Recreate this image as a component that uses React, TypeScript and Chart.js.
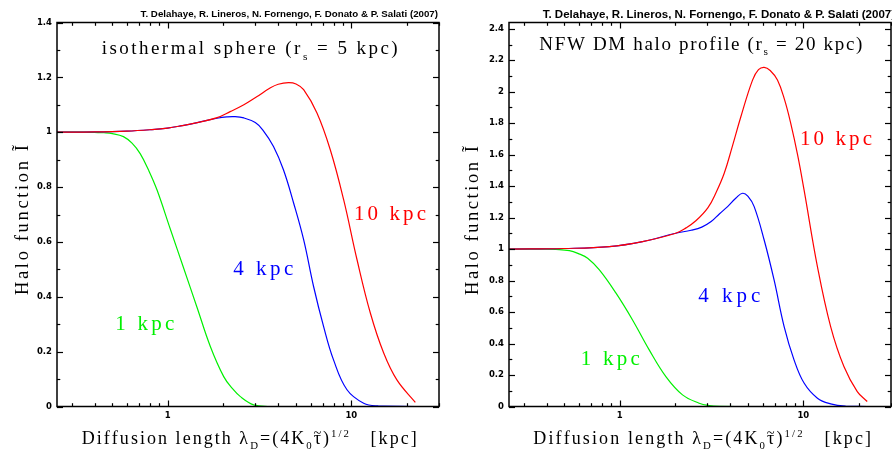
import React, { useEffect, useRef } from 'react';
import { Chart, registerables } from 'chart.js';

Chart.register(...registerables);

// ---------------- data ----------------
// Isothermal sphere (rs = 5 kpc)
const iso1X = [0.25, 0.3, 0.35, 0.4, 0.45, 0.5, 0.575, 0.64, 0.709, 0.79, 0.875, 1.033, 1.222, 1.445, 1.708, 2.02, 2.25, 2.49, 2.94, 3.5, 5, 10, 22.3];
const iso1Y = [1.0, 1.0, 1.0, 0.999, 0.998, 0.995, 0.984, 0.96, 0.922, 0.86, 0.79, 0.648, 0.505, 0.362, 0.219, 0.109, 0.066, 0.036, 0.006, 0.0, 0, 0, 0];
const iso4X = [0.25, 0.4, 0.6, 0.8, 1.0, 1.2, 1.45, 1.86, 2.1, 2.3, 2.6, 3.0, 3.3, 3.77, 4.27, 4.85, 5.5, 6.23, 7.06, 8.0, 9.47, 11.67, 14, 22.3];
const iso4Y = [1.0, 1.001, 1.004, 1.009, 1.015, 1.024, 1.035, 1.051, 1.056, 1.057, 1.052, 1.035, 1.008, 0.948, 0.863, 0.742, 0.608, 0.4375, 0.292, 0.17, 0.061, 0.012, 0.002, 0];
const iso10X = [0.25, 0.4, 0.6, 0.8, 1.0, 1.2, 1.45, 1.86, 2.19, 2.6, 3.07, 3.61, 4.0, 4.55, 5.0, 5.5, 6.5, 7.68, 9.08, 10.74, 12.7, 15.0, 17.7, 22.3];
const iso10Y = [1.0, 1.001, 1.004, 1.009, 1.015, 1.024, 1.035, 1.053, 1.075, 1.1, 1.13, 1.161, 1.175, 1.181, 1.176, 1.155, 1.07, 0.936, 0.754, 0.535, 0.34, 0.195, 0.097, 0.015];

// NFW DM halo profile (rs = 20 kpc)
const nfw1X = [0.25, 0.3, 0.384, 0.45, 0.533, 0.6, 0.67, 0.776, 0.956, 1.176, 1.449, 1.786, 2.2, 2.71, 3.07, 3.5, 5, 10, 22.3];
const nfw1Y = [1.0, 1.0, 1.0, 0.998, 0.99, 0.97, 0.942, 0.868, 0.72, 0.55, 0.36, 0.19, 0.074, 0.021, 0.006, 0.001, 0, 0, 0];
const nfw4X = [0.25, 0.5, 0.879, 1.333, 2.02, 2.45, 2.8, 3.15, 3.5, 3.87, 4.3, 4.67, 5.0, 5.4, 6.12, 6.93, 7.86, 8.9, 10.09, 11.93, 14.08, 17, 22.3];
const nfw4Y = [1.0, 1.004, 1.016, 1.048, 1.101, 1.12, 1.14, 1.175, 1.225, 1.27, 1.325, 1.355, 1.335, 1.27, 1.058, 0.804, 0.508, 0.2965, 0.149, 0.053, 0.017, 0.002, 0];
const nfw10X = [0.25, 0.5, 0.879, 1.333, 2.02, 2.3, 2.6, 3.02, 3.35, 3.71, 4.1, 4.57, 5.29, 5.7, 6.12, 6.6, 7.23, 7.9, 8.54, 9.3, 10.09, 11.93, 14.08, 16.63, 19.66, 22.27];
const nfw10Y = [1.0, 1.004, 1.016, 1.048, 1.101, 1.135, 1.18, 1.262, 1.36, 1.482, 1.65, 1.841, 2.074, 2.14, 2.155, 2.135, 2.074, 1.95, 1.799, 1.6, 1.376, 0.889, 0.508, 0.254, 0.095, 0.032];

// ticks
const xMajorTicks = [1, 10];
const xMinorTicks = [0.3, 0.4, 0.5, 0.6, 0.7, 0.8, 0.9, 2, 3, 4, 5, 6, 7, 8, 9, 20, 30];
const isoYMajor = [0, 0.2, 0.4, 0.6, 0.8, 1, 1.2, 1.4];
const isoYMinor = [0.1, 0.3, 0.5, 0.7, 0.9, 1.1, 1.3];
const nfwYMajor = [0, 0.2, 0.4, 0.6, 0.8, 1, 1.2, 1.4, 1.6, 1.8, 2, 2.2, 2.4];
const nfwYMinor = [0.1, 0.3, 0.5, 0.7, 0.9, 1.1, 1.3, 1.5, 1.7, 1.9, 2.1, 2.3];

const seriesLabels = ['10 kpc', '4 kpc', '1 kpc'];
const seriesColors = ['#ff0000', '#0000ff', '#00f000'];
const citation = 'T. Delahaye, R. Lineros, N. Fornengo, F. Donato & P. Salati (2007)';

// ---------------- text helpers ----------------
type Seg = { t: string; scale?: number; dy?: number; tilde?: boolean };

function drawRich(
  ctx: CanvasRenderingContext2D,
  segs: Seg[],
  x: number,
  y: number,
  o: { size: number; family: string; weight?: string; color: string; width?: number; align?: string }
) {
  const weight = o.weight || 'normal';
  const chars: { ch: string; sz: number; dy: number; w: number; tilde?: boolean }[] = [];
  for (const s of segs) {
    const sz = o.size * (s.scale ?? 1);
    ctx.font = `${weight} ${sz}px ${o.family}`;
    for (const ch of Array.from(s.t)) {
      chars.push({ ch, sz, dy: (s.dy ?? 0) * o.size, w: ctx.measureText(ch).width, tilde: s.tilde });
    }
  }
  const nat = chars.reduce((a, c) => a + c.w, 0);
  let ls = 0;
  if (o.width != null && chars.length > 1) ls = (o.width - nat) / (chars.length - 1);
  const total = nat + ls * (chars.length - 1);
  let cx = o.align === 'right' ? x - total : o.align === 'center' ? x - total / 2 : x;
  ctx.fillStyle = o.color;
  ctx.textAlign = 'left';
  ctx.textBaseline = 'alphabetic';
  for (const c of chars) {
    ctx.font = `${weight} ${c.sz}px ${o.family}`;
    ctx.fillText(c.ch, cx, y + c.dy);
    if (c.tilde) {
      const s2 = c.sz * 0.8;
      ctx.font = `${weight} ${s2}px ${o.family}`;
      const tw = ctx.measureText('~').width;
      ctx.fillText('~', cx + c.w / 2 - tw / 2, y + c.dy - 0.36 * c.sz);
    }
    cx += c.w + ls;
  }
}

function drawFitted(ctx: CanvasRenderingContext2D, text: string, x: number, y: number, width: number, font: string, align: CanvasTextAlign) {
  ctx.font = `bold 10px ${font}`;
  const w10 = ctx.measureText(text).width;
  const size = (10 * width) / w10;
  ctx.font = `bold ${size}px ${font}`;
  ctx.fillStyle = '#000';
  ctx.textAlign = align;
  ctx.textBaseline = 'alphabetic';
  ctx.fillText(text, x, y);
}

const SERIF = '"Liberation Serif", "Times New Roman", serif';
const SANS = '"Liberation Sans", Arial, sans-serif';

const xTitleSegs: Seg[] = [
  { t: 'Diffusion length λ' },
  { t: 'D', scale: 0.6, dy: 0.25 },
  { t: '=(4K' },
  { t: '0', scale: 0.6, dy: 0.25 },
  { t: 'τ', tilde: true },
  { t: ')' },
  { t: '1/2', scale: 0.6, dy: -0.4 },
  { t: '   [kpc]' },
];
const yTitleSegs: Seg[] = [{ t: 'Halo function Ĩ' }];

type Panel = {
  series: { x: number[]; y: number[] }[];
  yMax: number;
  yMajor: number[];
  yMinor: number[];
  leftW: number;
  rightPad: number;
  titleSegs: Seg[];
  layout: {
    cit: { x: number; y: number; w: number; align: CanvasTextAlign };
    title: { x: number; y: number; w: number };
    labels: { x: number; y: number; w: number }[];
    xTitle: { x: number; y: number; w: number };
    yTitle: { x: number; y: number; w: number };
  };
};

const isoPanel: Panel = {
  series: [
    { x: iso10X, y: iso10Y },
    { x: iso4X, y: iso4Y },
    { x: iso1X, y: iso1Y },
  ],
  yMax: 1.4,
  yMajor: isoYMajor,
  yMinor: isoYMinor,
  leftW: 57,
  rightPad: 7,
  titleSegs: [{ t: 'isothermal sphere (r' }, { t: 's', scale: 0.6, dy: 0.28 }, { t: ' = 5 kpc)' }],
  layout: {
    cit: { x: 438, y: 17, w: 298, align: 'right' },
    title: { x: 101.7, y: 54.3, w: 296 },
    labels: [
      { x: 354, y: 220, w: 72 },
      { x: 233.3, y: 275, w: 60 },
      { x: 115.3, y: 330, w: 59 },
    ],
    xTitle: { x: 81.7, y: 444, w: 335 },
    yTitle: { x: 28.3, y: 295, w: 150 },
  },
};

const nfwPanel: Panel = {
  series: [
    { x: nfw10X, y: nfw10Y },
    { x: nfw4X, y: nfw4Y },
    { x: nfw1X, y: nfw1Y },
  ],
  yMax: 2.44,
  yMajor: nfwYMajor,
  yMinor: nfwYMinor,
  leftW: 63,
  rightPad: 1,
  titleSegs: [{ t: 'NFW DM halo profile (r' }, { t: 's', scale: 0.6, dy: 0.28 }, { t: ' = 20 kpc)' }],
  layout: {
    cit: { x: 96.7, y: 18, w: 353, align: 'left' },
    title: { x: 93.3, y: 50, w: 323 },
    labels: [
      { x: 354, y: 145, w: 72 },
      { x: 252.3, y: 301.7, w: 62 },
      { x: 134.7, y: 365, w: 59 },
    ],
    xTitle: { x: 87.3, y: 444, w: 337.7 },
    yTitle: { x: 31.7, y: 295, w: 149 },
  },
};

function makeDecor(p: Panel) {
  return {
    id: 'decor',
    afterDraw(chart: any) {
      const ctx: CanvasRenderingContext2D = chart.ctx;
      const a = chart.chartArea;
      const xs = chart.scales.x;
      const ys = chart.scales.y;
      ctx.save();
      ctx.strokeStyle = '#000';
      ctx.lineWidth = 1.2;
      const line = (x1: number, y1: number, x2: number, y2: number) => {
        ctx.beginPath();
        ctx.moveTo(x1, y1);
        ctx.lineTo(x2, y2);
        ctx.stroke();
      };
      const xt = (vals: number[], len: number) => {
        for (const v of vals) {
          const px = Math.round(xs.getPixelForValue(v)) + 0.5;
          if (px < a.left - 0.5 || px > a.right + 0.5) continue;
          line(px, a.bottom, px, a.bottom - len);
          line(px, a.top, px, a.top + len);
        }
      };
      const yt = (vals: number[], len: number) => {
        for (const v of vals) {
          const py = Math.round(ys.getPixelForValue(v)) + 0.5;
          line(a.left, py, a.left + len, py);
          line(a.right, py, a.right - len, py);
        }
      };
      xt(xMajorTicks, 6);
      xt(xMinorTicks, 3.3);
      yt(p.yMajor, 6);
      yt(p.yMinor, 3.3);
      ctx.lineWidth = 1.5;
      ctx.strokeRect(a.left, a.top, a.right - a.left, a.bottom - a.top);

      const L = p.layout;
      drawFitted(ctx, citation, L.cit.x, L.cit.y, L.cit.w, SANS, L.cit.align);
      drawRich(ctx, p.titleSegs, L.title.x, L.title.y, { size: 19, family: SERIF, color: '#000', width: L.title.w });
      seriesLabels.forEach((lab, i) => {
        const q = L.labels[i];
        drawRich(ctx, [{ t: lab }], q.x, q.y, { size: 21, family: SERIF, color: seriesColors[i], width: q.w });
      });
      drawRich(ctx, xTitleSegs, L.xTitle.x, L.xTitle.y, { size: 18, family: SERIF, color: '#000', width: L.xTitle.w });
      ctx.save();
      ctx.translate(L.yTitle.x, L.yTitle.y);
      ctx.rotate(-Math.PI / 2);
      drawRich(ctx, yTitleSegs, 0, 0, { size: 18.5, family: SERIF, color: '#000', width: L.yTitle.w });
      ctx.restore();
      ctx.restore();
    },
  };
}

function fmt(v: number) {
  return String(Math.round(v * 10) / 10);
}

function ChartPanel({ panel, left }: { panel: Panel; left: number }) {
  const ref = useRef<HTMLCanvasElement>(null);
  useEffect(() => {
    const canvas = ref.current!;
    const tickFont = { family: '"DejaVu Sans", sans-serif', weight: 'bold' as const, size: 8.5 };
    const chart = new Chart(canvas, {
      type: 'line',
      data: {
        datasets: panel.series.map((s, i) => ({
          data: s.x.map((x, j) => ({ x, y: s.y[j] })),
          borderColor: seriesColors[i],
          borderWidth: 1.2,
          pointRadius: 0,
          fill: false,
          tension: 0.4,
        })),
      },
      options: {
        animation: false,
        responsive: false,
        devicePixelRatio: 1,
        events: [],
        layout: { padding: { top: 22.5, right: panel.rightPad, left: 0, bottom: 0 } },
        plugins: { legend: { display: false }, tooltip: { enabled: false }, title: { display: false } },
        scales: {
          x: {
            type: 'logarithmic',
            min: 0.25,
            max: 30,
            grid: { display: false, drawTicks: false },
            border: { display: false },
            afterBuildTicks: (s: any) => {
              s.ticks = xMajorTicks.map((v) => ({ value: v }));
            },
            afterFit: (s: any) => {
              s.height = 44.5;
            },
            ticks: {
              font: tickFont,
              color: '#000',
              padding: 4,
              autoSkip: false,
              maxRotation: 0,
              callback: (v: any) => String(v),
            },
          },
          y: {
            type: 'linear',
            min: 0,
            max: panel.yMax,
            grid: { display: false, drawTicks: false },
            border: { display: false },
            afterBuildTicks: (s: any) => {
              s.ticks = panel.yMajor.map((v) => ({ value: v }));
            },
            afterFit: (s: any) => {
              s.width = panel.leftW;
            },
            ticks: {
              font: tickFont,
              color: '#000',
              padding: 5,
              autoSkip: false,
              callback: (v: any) => fmt(Number(v)),
            },
          },
        },
      },
      plugins: [makeDecor(panel)],
    } as any);
    return () => chart.destroy();
  }, [panel]);
  return (
    <canvas
      ref={ref}
      width={446}
      height={451}
      style={{ position: 'absolute', left, top: 0, width: 446, height: 451, display: 'block' }}
    />
  );
}

export default function App() {
  return (
    <div style={{ position: 'fixed', left: 0, top: 0, width: 892, height: 451, background: '#fff', overflow: 'hidden' }}>
      <ChartPanel panel={isoPanel} left={0} />
      <ChartPanel panel={nfwPanel} left={446} />
    </div>
  );
}
